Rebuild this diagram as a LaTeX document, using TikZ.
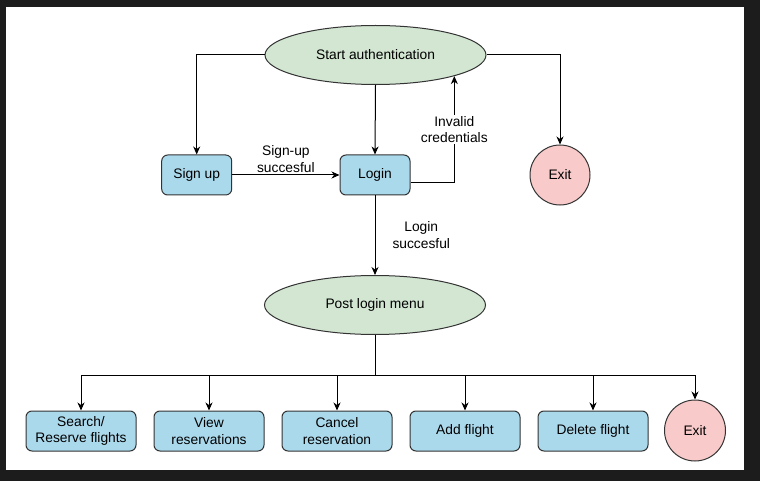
\documentclass[tikz,border=0pt]{standalone}
\usepackage{fontspec}
\setmainfont{Liberation Sans}
\usetikzlibrary{arrows.meta,shapes.geometric}

\definecolor{boxblue}{HTML}{ABD9EC}
\definecolor{ovalgreen}{HTML}{D2E6D2}
\definecolor{exitpink}{HTML}{F8CBCA}
\definecolor{linegray}{HTML}{333333}
\definecolor{framedark}{HTML}{1C1C1C}

\begin{document}
\begin{tikzpicture}[
  x=1pt, y=-1pt,
  every node/.style={font=\fontsize{13.8}{16.6}\selectfont, align=center},
  box/.style={
    rectangle,
    rounded corners=6pt,
    draw=linegray,
    fill=boxblue,
    minimum width=70pt,
    minimum height=40pt,
    inner sep=2pt,
  },
  menubox/.style={box, minimum width=110pt},
  oval/.style={ellipse, draw=linegray, fill=ovalgreen, minimum width=221pt, minimum height=59pt},
  stop/.style={circle, draw=linegray, fill=exitpink, minimum size=60pt, inner sep=0pt},
  lbl/.style={fill=white, inner sep=1pt},
  every path/.style={line width=1pt, >={Stealth[length=8pt,width=7pt,inset=2.5pt]}},
  ]
  \fill[framedark] (0,0) rectangle (760,481);
  \fill[white] (6,7) rectangle (744,470);
  \useasboundingbox (0,0) rectangle (760,481);

  \node[oval] (start) at (375.5,55) {Start authentication};
  \node[box] (signup) at (196.7,175) {Sign up};
  \node[box] (login) at (375,175) {Login};
  \node[stop] (exit1) at (560,175) {Exit};
  \node[oval] (post) at (375,305) {Post login menu};

  \node[menubox] (search) at (81,431) {Search/\\Reserve flights};
  \node[menubox] (view) at (209,431) {View\\reservations};
  \node[menubox] (cancel) at (337,431) {Cancel\\reservation};
  \node[menubox] (add) at (465,431) {Add flight};
  \node[menubox] (delete) at (593,431) {Delete flight};
  \node[stop, minimum size=61pt] (exit2) at (695,430.5) {Exit};
  \coordinate (fork) at (375,375);

  \draw[->] (start.west) -| (signup.north);
  \draw[->] (start.east) -| (exit1.north);
  \draw[->] (start.south) -- (login.north);
  \draw[->] (signup.east) -- node[lbl, above=1pt] {Sign-up\\succesful} (login.west);
  \draw[->] ([yshift=-8pt]login.east) -| node[lbl, pos=0.75] {Invalid\\credentials} (start.-15);
  \draw[->] (login.south) -- node[lbl, right=16pt] {Login\\succesful} (post.north);
  \draw (post.south) -- (fork);
  \foreach \n in {search,view,cancel,add,delete,exit2}
    \draw[->] (fork) -| (\n.north);
\end{tikzpicture}
\end{document}
